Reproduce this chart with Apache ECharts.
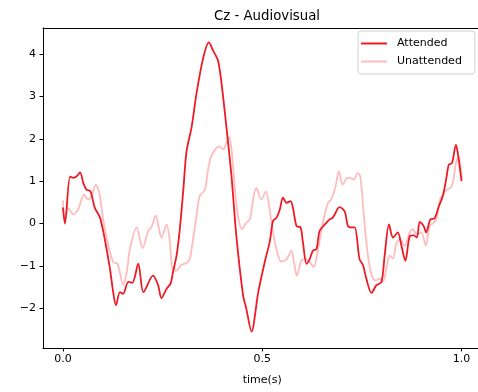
<!DOCTYPE html>
<html>
<head>
<meta charset="utf-8">
<script src="https://cdn.jsdelivr.net/npm/echarts@6/dist/echarts.min.js"></script>
<style>
  html, body { margin: 0; padding: 0; background: #fff; }
  #chart { width: 478px; height: 392px; }
</style>
</head>
<body>
<div id="chart"></div>
<script>
// Event-related potential at electrode Cz, audiovisual condition (µV vs seconds)
const attendedTime = [0.000, 0.005, 0.018, 0.026, 0.034, 0.043, 0.051, 0.059, 0.069, 0.080,
  0.093, 0.105, 0.118, 0.126, 0.133, 0.143, 0.151, 0.164, 0.174, 0.189,
  0.202, 0.226, 0.239, 0.247, 0.260, 0.270, 0.276, 0.285, 0.293, 0.302,
  0.310, 0.323, 0.335, 0.352, 0.366, 0.377, 0.389, 0.398, 0.410, 0.423,
  0.435, 0.452, 0.460, 0.473, 0.490, 0.507, 0.519, 0.527, 0.536, 0.544,
  0.552, 0.561, 0.571, 0.577, 0.586, 0.596, 0.602, 0.611, 0.619, 0.627,
  0.636, 0.644, 0.657, 0.669, 0.677, 0.694, 0.707, 0.715, 0.724, 0.732,
  0.744, 0.753, 0.761, 0.774, 0.786, 0.799, 0.807, 0.818, 0.828, 0.840,
  0.849, 0.859, 0.870, 0.880, 0.888, 0.895, 0.905, 0.911, 0.922, 0.932,
  0.943, 0.953, 0.962, 0.968, 0.976, 0.986, 0.990, 1.000];
const attendedValues = [0.38, 0.00, 1.11, 1.08, 1.11, 1.21, 0.96, 0.80, 0.76, 0.37,
  0.14, -0.37, -1.07, -1.62, -1.93, -1.62, -1.66, -1.38, -1.40, -0.95,
  -1.62, -1.23, -1.46, -1.76, -1.54, -1.42, -1.15, -0.76, -0.15, 0.80,
  1.70, 2.29, 3.07, 3.92, 4.28, 4.08, 3.85, 3.30, 2.29, 1.11,
  -0.29, -1.70, -2.01, -2.55, -1.62, -0.88, -0.42, 0.06, 0.14, 0.33,
  0.61, 0.49, 0.53, 0.37, -0.06, -0.09, -0.44, -0.95, -0.84, -0.64,
  -0.60, -0.17, -0.02, 0.10, 0.14, 0.39, 0.28, -0.06, -0.09, -0.09,
  -0.84, -0.99, -1.30, -1.64, -1.46, -1.38, -0.76, -0.02, -0.33, -0.21,
  -0.52, -0.88, -0.30, -0.28, -0.33, 0.04, -0.06, -0.21, 0.10, 0.12,
  0.41, 0.65, 1.08, 1.39, 1.43, 1.86, 1.70, 1.00];

const unattendedTime = [0.000, 0.005, 0.013, 0.026, 0.038, 0.053, 0.063, 0.072, 0.082, 0.091,
  0.101, 0.114, 0.126, 0.137, 0.151, 0.160, 0.168, 0.185, 0.200, 0.214,
  0.222, 0.233, 0.241, 0.247, 0.260, 0.268, 0.276, 0.285, 0.297, 0.310,
  0.318, 0.326, 0.335, 0.343, 0.356, 0.364, 0.373, 0.385, 0.392, 0.402,
  0.410, 0.417, 0.423, 0.431, 0.439, 0.449, 0.460, 0.469, 0.477, 0.485,
  0.498, 0.509, 0.519, 0.527, 0.540, 0.548, 0.561, 0.573, 0.581, 0.587,
  0.598, 0.609, 0.619, 0.629, 0.640, 0.652, 0.665, 0.673, 0.684, 0.692,
  0.702, 0.713, 0.719, 0.729, 0.740, 0.746, 0.753, 0.761, 0.769, 0.778,
  0.786, 0.794, 0.803, 0.811, 0.820, 0.828, 0.836, 0.845, 0.857, 0.870,
  0.878, 0.886, 0.899, 0.910, 0.920, 0.930, 0.937, 0.945, 0.953, 0.963,
  0.972, 0.978, 0.986, 0.993, 1.000];
const unattendedValues = [0.55, 0.10, 0.37, 0.22, 0.33, 0.69, 0.57, 0.65, 0.92, 0.73,
  0.10, -0.52, -0.91, -0.95, -1.44, -1.15, -0.60, -0.09, -0.58, -0.17,
  -0.09, 0.19, -0.13, -0.33, -0.02, -0.41, -1.11, -1.11, -0.98, -0.93,
  -0.84, -0.40, 0.18, 0.65, 0.80, 1.27, 1.62, 1.78, 1.82, 1.76,
  1.90, 2.05, 1.74, 0.88, 0.18, -0.13, 0.02, 0.10, 0.57, 0.84,
  0.57, 0.76, 0.30, -0.21, -0.76, -0.90, -0.84, -0.64, -0.99, -1.23,
  -0.88, -0.84, -0.91, -1.03, -0.60, 0.02, 0.49, 0.57, 0.88, 1.23,
  0.92, 1.08, 1.08, 1.04, 1.19, 1.11, 0.41, -0.44, -0.99, -1.30,
  -1.34, -1.30, -1.38, -1.07, -0.76, -0.82, -0.48, -0.37, -0.52, -0.21,
  -0.13, -0.25, -0.21, -0.52, -0.06, 0.02, 0.10, 0.53, 0.69, 0.80,
  0.84, 0.96, 1.43, 1.58, 1.04];

const xTicks = [0, 0.5, 1.0];
const yTicks = [-2, -1, 0, 1, 2, 3, 4];

const pairs = (ts, vs) => ts.map((t, i) => [t, vs[i]]);
const FONT = 'DejaVu Sans';
const RED = '#ee1b26';
const PINK = '#ffbcbc';
const X_MIN = -0.05, X_MAX = 1.05;

const chart = echarts.init(document.getElementById('chart'), null, { renderer: 'canvas' });
chart.setOption({
  animation: false,
  backgroundColor: '#ffffff',
  title: {
    text: 'Cz - Audiovisual',
    left: 262, top: 5,
    textAlign: 'center',
    textStyle: { fontFamily: FONT, fontSize: 13.3, fontWeight: 'normal', color: '#000' }
  },
  legend: {
    left: 358, top: 31,
    orient: 'vertical',
    icon: 'rect',
    itemWidth: 26, itemHeight: 2, itemGap: 5,
    padding: [6, 13, 6, 3],
    borderColor: '#d0d0d0', borderWidth: 1, borderRadius: 3,
    backgroundColor: 'rgba(255,255,255,0.8)',
    textStyle: { fontFamily: FONT, fontSize: 11, color: '#000', padding: [0, 0, 0, 5], lineHeight: 13 },
    data: [
      { name: 'Attended', itemStyle: { color: RED } },
      { name: 'Unattended', itemStyle: { color: PINK } }
    ]
  },
  grid: {
    left: 43, top: 28, width: 438.5, height: 320,
    outerBoundsMode: 'none',
    containLabel: false,
    show: false
  },
  xAxis: [
    {
      type: 'value', min: X_MIN, max: X_MAX, position: 'bottom',
      name: 'time(s)', nameLocation: 'middle', nameGap: 27,
      nameTextStyle: { fontFamily: FONT, fontSize: 11, color: '#000' },
      axisLine: { show: true, onZero: false, lineStyle: { color: '#000', width: 1 } },
      axisTick: { show: true, length: 3.5, customValues: xTicks, lineStyle: { color: '#000' } },
      axisLabel: { customValues: xTicks, margin: 6, fontFamily: FONT, fontSize: 11, color: '#000',
        formatter: v => v.toFixed(1) },
      splitLine: { show: false }
    },
    {
      // top frame edge only
      type: 'value', min: X_MIN, max: X_MAX, position: 'top',
      axisLine: { show: true, onZero: false, lineStyle: { color: '#000', width: 1 } },
      axisTick: { show: false }, axisLabel: { show: false }, splitLine: { show: false }
    }
  ],
  yAxis: {
    type: 'value', min: -2.94, max: 4.62,
    axisLine: { show: true, onZero: false, lineStyle: { color: '#000', width: 1 } },
    axisTick: { show: true, length: 3.5, customValues: yTicks, lineStyle: { color: '#000' } },
    axisLabel: { customValues: yTicks, margin: 7, fontFamily: FONT, fontSize: 11, color: '#000',
      formatter: v => (v < 0 ? '\u2212' + Math.abs(v) : String(v)) },
    splitLine: { show: false }
  },
  series: [
    {
      name: 'Unattended', type: 'line', symbol: 'none', smooth: 0.3, z: 2,
      data: pairs(unattendedTime, unattendedValues),
      lineStyle: { color: PINK, width: 1.8 }, itemStyle: { color: PINK }
    },
    {
      name: 'Attended', type: 'line', symbol: 'none', smooth: 0.3, z: 3,
      data: pairs(attendedTime, attendedValues),
      lineStyle: { color: RED, width: 1.8 }, itemStyle: { color: RED }
    }
  ]
});
</script>
</body>
</html>
